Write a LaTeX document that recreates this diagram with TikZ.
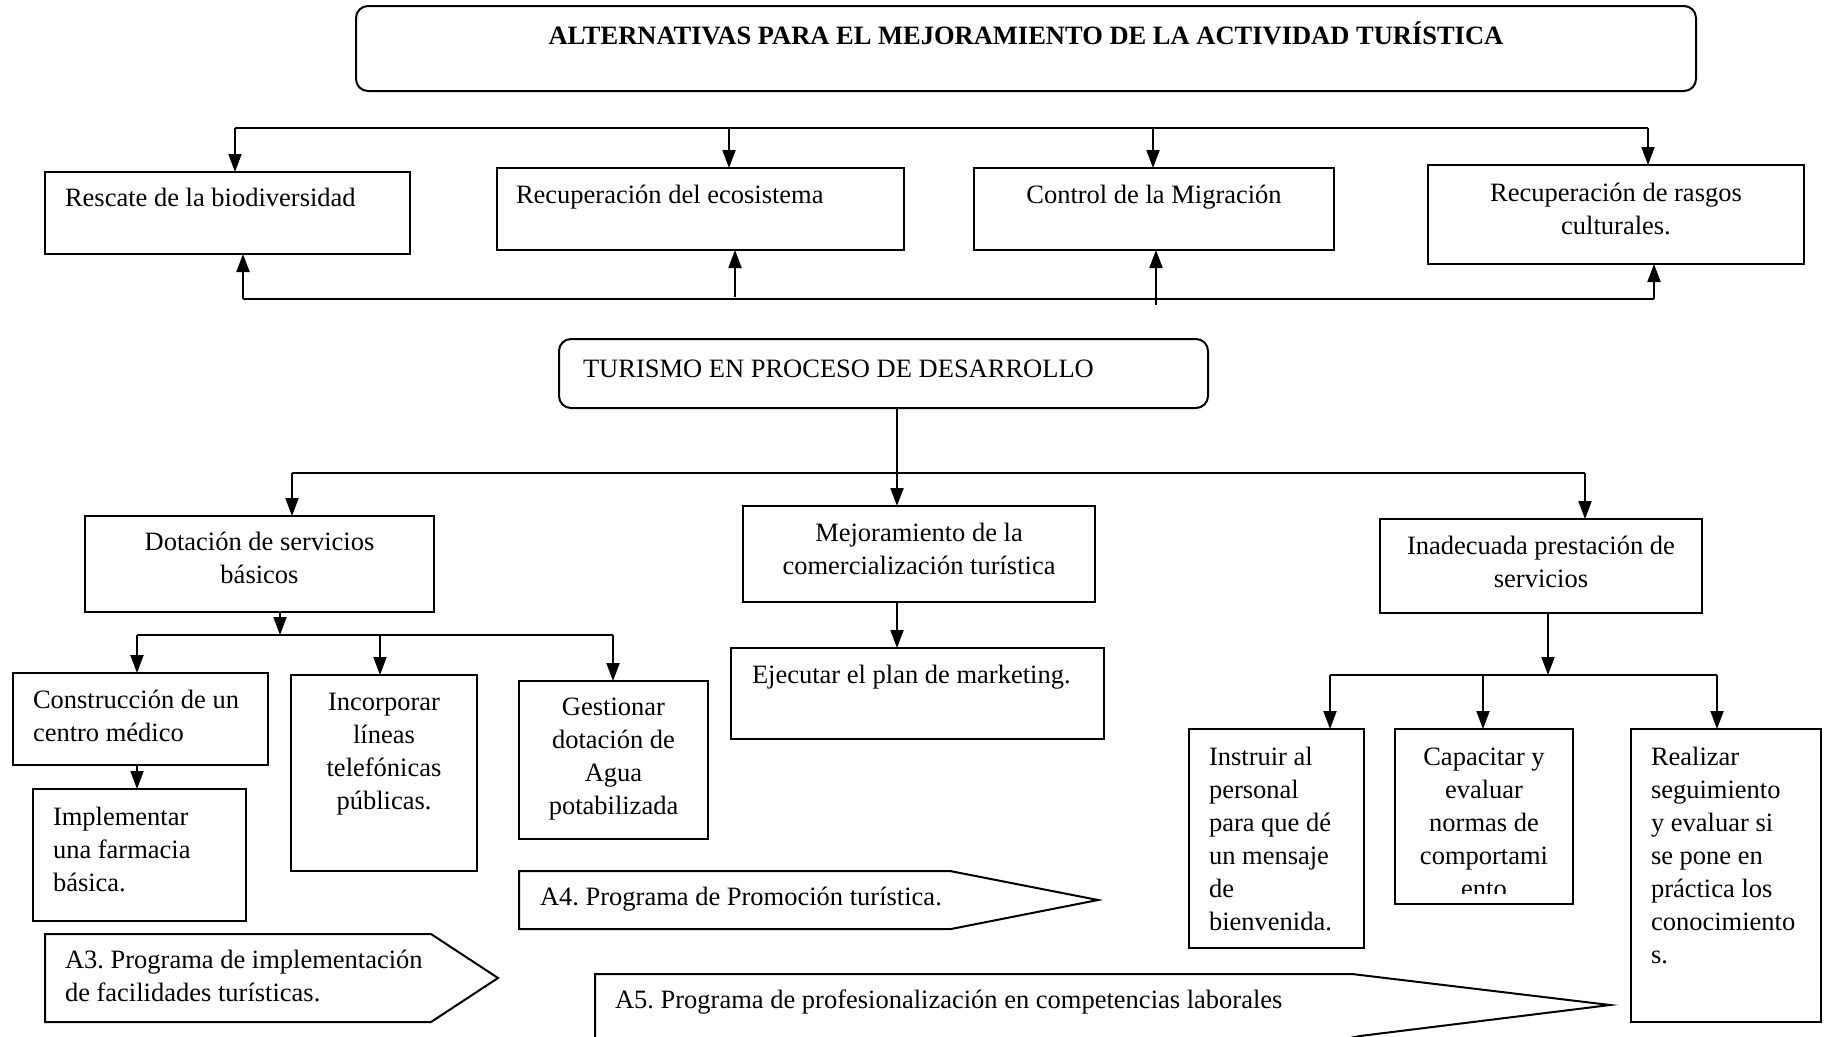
\documentclass[tikz,border=0pt]{standalone}
\usepackage{fontspec}
\setmainfont{Liberation Serif}
\usetikzlibrary{arrows.meta}
\newcommand{\fsz}{\fontsize{26.5}{33}\selectfont\frenchspacing}
\begin{document}
\begin{tikzpicture}[x=1pt,y=-1pt,
  box/.style={draw, line width=2pt, inner sep=0pt, outer sep=0pt},
  rbox/.style={box, rounded corners=12pt},
  lbl/.style={inner sep=0pt, outer sep=0pt, font=\fsz},
  arr/.style={line width=2pt, -{Triangle[length=18pt,width=13pt]}},
  ln/.style={line width=2pt}]
\useasboundingbox (0,0) rectangle (1828,1036);
\fill[white] (0,0) rectangle (1828,1036);

% ---------- boxes ----------
\node[rbox, minimum width=1340pt, minimum height=85pt] (title) at (1026,48.5) {};
\node[box, minimum width=365pt, minimum height=82pt] (b1) at (227.5,213) {};
\node[box, minimum width=407pt, minimum height=82pt] (b2) at (700.5,209) {};
\node[box, minimum width=360pt, minimum height=82pt] (b3) at (1154,209) {};
\node[box, minimum width=376pt, minimum height=99pt] (b4) at (1616,214.5) {};
\node[rbox, minimum width=649pt, minimum height=69pt] (tur) at (883.5,373.5) {};
\node[box, minimum width=349pt, minimum height=96pt] (dot) at (259.5,564) {};
\node[box, minimum width=352pt, minimum height=96pt] (mej) at (919,554) {};
\node[box, minimum width=322pt, minimum height=94pt] (ina) at (1541,566) {};
\node[box, minimum width=255pt, minimum height=92pt] (con) at (140.5,719) {};
\node[box, minimum width=213pt, minimum height=132pt] (imp) at (139.5,855) {};
\node[box, minimum width=186pt, minimum height=196pt] (inc) at (384,773) {};
\node[box, minimum width=189pt, minimum height=158pt] (ges) at (613.5,760) {};
\node[box, minimum width=373pt, minimum height=91pt] (eje) at (917.5,693.5) {};
\node[box, minimum width=175pt, minimum height=219pt] (ins) at (1276.5,838.5) {};
\node[box, minimum width=178pt, minimum height=175pt] (cap) at (1484,816.5) {};
\node[box, minimum width=190pt, minimum height=293pt] (rea) at (1726,875.5) {};

% ---------- program arrows (shapes) ----------
\draw[ln, line join=miter] (519,871) -- (950,871) -- (1098,900) -- (951,929) -- (519,929) -- cycle;
\draw[ln, line join=miter] (45,934) -- (431,934) -- (498,978) -- (431,1022) -- (45,1022) -- cycle;
\draw[ln, line join=miter] (595,1045) -- (595,974) -- (1352,974) -- (1610,1005) -- (1360,1036) -- (1340,1040);

% ---------- texts ----------
\node[lbl, font=\fsz\bfseries, anchor=base] (ttitle) at (1026,44) {ALTERNATIVAS PARA EL MEJORAMIENTO DE LA ACTIVIDAD TURÍSTICA};
\node[lbl, anchor=base west] (tb1) at (65,206) {Rescate de la biodiversidad};
\node[lbl, anchor=base west] (tb2) at (516,203) {Recuperación del ecosistema};
\node[lbl, anchor=base] (tb3) at (1154,203) {Control de la Migración};
\node[lbl, anchor=north, align=center] (tb4) at (1616,178) {\strut Recuperación de rasgos\\culturales.};
\node[lbl, anchor=base west] (ttur) at (583,377) {TURISMO EN PROCESO DE DESARROLLO};
\node[lbl, anchor=north, align=center] (tdot) at (259.5,527.6) {\strut Dotación de servicios\\básicos};
\node[lbl, anchor=north, align=center] (tmej) at (919,518) {\strut Mejoramiento de la\\comercialización turística};
\node[lbl, anchor=north, align=center] (tina) at (1541,531) {\strut Inadecuada prestación de\\servicios};
\node[lbl, anchor=north west, align=left] (tcon) at (33,685) {\strut Construcción de un\\centro médico};
\node[lbl, anchor=north west, align=left] (timp) at (53,802) {\strut Implementar\\una farmacia\\básica.};
\node[lbl, anchor=north, align=center] (tinc) at (384,687) {\strut Incorporar\\líneas\\telefónicas\\públicas.};
\node[lbl, anchor=north, align=center] (tges) at (613.5,692) {\strut Gestionar\\dotación de\\Agua\\potabilizada};
\node[lbl, anchor=base west] (teje) at (752,683) {Ejecutar el plan de marketing.};
\node[lbl, anchor=north west, align=left] (tins) at (1209,742) {\strut Instruir al\\personal\\para que dé\\un mensaje\\de\\bienvenida.};
\begin{scope}
  \clip (1396,730) rectangle (1572,893);
  \node[lbl, anchor=north, align=center] (tcap) at (1484,742) {\strut Capacitar y\\evaluar\\normas de\\comportami\\ento};
\end{scope}
\node[lbl, anchor=north west, align=left] (trea) at (1651,742) {\strut Realizar\\seguimiento\\y evaluar si\\se pone en\\práctica los\\conocimiento\\s.};
\node[lbl, anchor=base west] (ta4) at (540,905) {A4. Programa de Promoción turística.};
\node[lbl, anchor=north west, align=left] (ta3) at (65,945) {\strut A3. Programa de implementación\\de facilidades turísticas.};
\node[lbl, anchor=base west] (ta5) at (615,1008) {A5. Programa de profesionalización en competencias laborales};

% ---------- connectors: top row ----------
\coordinate (tl) at (235,128);
\coordinate (t2) at (729,128);
\coordinate (t3) at (1153,128);
\coordinate (tr) at (1648,128);
\draw[ln] (tl) -- (tr);
\draw[arr] (tl) -- (tl |- b1.north);
\draw[arr] (t2) -- (t2 |- b2.north);
\draw[arr] (t3) -- (t3 |- b3.north);
\draw[arr] (tr) -- (tr |- b4.north);

\coordinate (bl) at (243,299);
\coordinate (u2) at (735,297);
\coordinate (u3) at (1156,305);
\coordinate (br) at (1654,299);
\draw[ln] (bl) -- (br);
\draw[arr] (bl) -- (bl |- b1.south);
\draw[arr] (u2) -- (u2 |- b2.south);
\draw[arr] (u3) -- (u3 |- b3.south);
\draw[arr] (br) -- (br |- b4.south);

% ---------- connectors: middle ----------
\coordinate (mx) at (897,473);
\coordinate (ml) at (292,473);
\coordinate (mr) at (1585,473);
\draw[arr] (tur.south -| mx) -- (mej.north -| mx);
\draw[ln] (ml) -- (mr);
\draw[arr] (ml) -- (ml |- dot.north);
\draw[arr] (mr) -- (mr |- ina.north);
\draw[arr] (mej.south -| mx) -- (eje.north -| mx);

% ---------- dotacion branch ----------
\coordinate (d0) at (280,635);
\coordinate (dl) at (137,635);
\coordinate (dm) at (380,635);
\coordinate (dr) at (613,635);
\draw[arr] (dot.south -| d0) -- (d0);
\draw[ln] (dl) -- (dr);
\draw[arr] (dl) -- (dl |- con.north);
\draw[arr] (dm) -- (dm |- inc.north);
\draw[arr] (dr) -- (dr |- ges.north);
\draw[arr] (con.south -| dl) -- (imp.north -| dl);

% ---------- inadecuada branch ----------
\coordinate (i0) at (1548,675);
\coordinate (il) at (1330,675);
\coordinate (im) at (1483,675);
\coordinate (ir) at (1717,675);
\draw[arr] (ina.south -| i0) -- (i0);
\draw[ln] (il) -- (ir);
\draw[arr] (il) -- (il |- ins.north);
\draw[arr] (im) -- (im |- cap.north);
\draw[arr] (ir) -- (ir |- rea.north);
\end{tikzpicture}
\end{document}
